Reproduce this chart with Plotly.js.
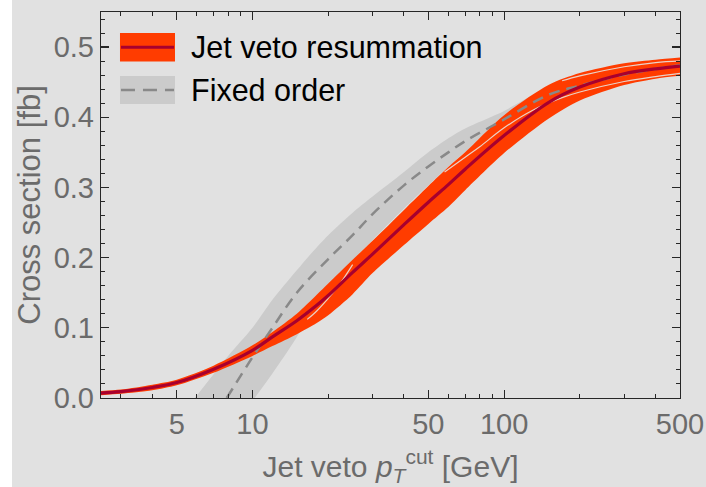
<!DOCTYPE html>
<html><head><meta charset="utf-8">
<script src="https://cdn.plot.ly/plotly-3.0.1.min.js"></script>
<style>html,body{margin:0;padding:0;background:#ffffff;} #plot{position:absolute;left:12px;top:0;width:694px;height:487px;}</style>
</head><body><div id="plot"></div>
<script>
// ---- Jet veto resummation (orange band + central line) ----
const resX       = [2.5, 3, 4, 5, 7, 10, 12, 15, 18, 20, 25, 30, 40, 50, 60, 70, 100, 150, 200, 300, 400, 500];
const resCentral = [0.007, 0.009, 0.015, 0.022, 0.041, 0.068, 0.087, 0.110, 0.132, 0.146, 0.179, 0.205, 0.247, 0.279, 0.304, 0.326, 0.374, 0.421, 0.443, 0.462, 0.469, 0.473];
const resLow     = [0.004, 0.006, 0.011, 0.018, 0.036, 0.060, 0.074, 0.091, 0.107, 0.118, 0.148, 0.178, 0.218, 0.248, 0.272, 0.296, 0.349, 0.398, 0.424, 0.446, 0.455, 0.459];
const resHigh    = [0.010, 0.012, 0.019, 0.026, 0.046, 0.075, 0.094, 0.120, 0.147, 0.163, 0.197, 0.224, 0.268, 0.302, 0.329, 0.350, 0.403, 0.446, 0.463, 0.477, 0.482, 0.485];

// light inner edges of overlapping variation bands
const edgeCrossX = [16.5, 18, 20, 22, 25];
const edgeCrossY = [0.112, 0.124, 0.142, 0.160, 0.190];
const edgeMidX   = [58, 70, 80, 100, 130, 170, 200, 300, 400, 500];
const edgeMidY   = [0.322, 0.343, 0.358, 0.385, 0.410, 0.428, 0.436, 0.451, 0.458, 0.4625];
const edgeTopX   = [170, 200, 300, 400, 500];
const edgeTopY   = [0.452, 0.459, 0.472, 0.478, 0.4805];

// ---- Fixed order (gray band + dashed central line) ----
const foUpperX = [5.9, 7, 8, 10, 12, 15, 17, 20, 25, 30, 40, 50, 60, 70, 100, 125, 150, 200, 300, 500];
const foUpperY = [0, 0.034, 0.060, 0.100, 0.140, 0.182, 0.205, 0.232, 0.264, 0.287, 0.322, 0.350, 0.370, 0.384, 0.409, 0.428, 0.440, 0.455, 0.468, 0.480];
const foLowerX = [10.2, 12, 14, 16, 18, 20, 25, 30, 40, 50, 70, 100, 150, 200, 300, 500];
const foLowerY = [0, 0.035, 0.070, 0.103, 0.130, 0.152, 0.195, 0.225, 0.270, 0.303, 0.350, 0.385, 0.418, 0.435, 0.452, 0.468];
const foCentralX = [7.9, 10, 12, 15, 20, 25, 30, 40, 50, 60, 70, 100, 150, 200, 300, 500];
const foCentralY = [0, 0.058, 0.100, 0.150, 0.198, 0.232, 0.262, 0.303, 0.330, 0.350, 0.366, 0.397, 0.432, 0.445, 0.461, 0.474];

// ---- ticks / labels ----
const xTickVals  = [5, 10, 50, 100, 500];
const xTickText  = ['5', '10', '50', '100', '500'];
const xMinorVals = [3, 4, 6, 7, 8, 9, 20, 30, 40, 60, 70, 80, 90, 200, 300, 400];
const legendLabels = ['Jet veto resummation', 'Fixed order'];

const ORANGE = '#ff3c00', DARKRED = '#a8002e', BAND = '#cbcbcb', DASH = '#898989', EDGE = '#ead2c8';
const BG = '#e1e1e1', AXC = '#262626', TXT = '#6b6b6b';

// lower edge first; the upper edge fills down to it
const traces = [
  {x: foLowerX, y: foLowerY, mode: 'lines', line: {width: 0, color: BAND, shape: 'spline', smoothing: 0.8}, hoverinfo: 'skip'},
  {x: foUpperX, y: foUpperY, mode: 'lines', fill: 'tonexty', fillcolor: BAND, line: {width: 0, color: BAND, shape: 'spline', smoothing: 0.8}, hoverinfo: 'skip'},
  {x: resX, y: resLow, mode: 'lines', line: {width: 0, color: ORANGE, shape: 'spline', smoothing: 0.8}, hoverinfo: 'skip'},
  {x: resX, y: resHigh, mode: 'lines', fill: 'tonexty', fillcolor: ORANGE, line: {width: 0, color: ORANGE, shape: 'spline', smoothing: 0.8}, hoverinfo: 'skip'},
  {x: edgeCrossX, y: edgeCrossY, mode: 'lines', line: {width: 1.2, color: EDGE, shape: 'spline'}},
  {x: edgeMidX, y: edgeMidY, mode: 'lines', line: {width: 1.2, color: EDGE, shape: 'spline'}},
  {x: edgeTopX, y: edgeTopY, mode: 'lines', line: {width: 1.2, color: EDGE, shape: 'spline'}},
  {x: foCentralX, y: foCentralY, mode: 'lines', line: {width: 2.5, color: DASH, dash: '11px,7px', shape: 'spline'}},
  {x: resX, y: resCentral, mode: 'lines', line: {width: 3.2, color: DARKRED, shape: 'spline'}}
];

const FONT = 'Liberation Sans, Arial, Helvetica, sans-serif';
const layout = {
  width: 694, height: 487,
  paper_bgcolor: BG, plot_bgcolor: BG,
  margin: {l: 89, r: 26, t: 12, b: 89},
  showlegend: false,
  font: {family: FONT, size: 29, color: TXT},
  xaxis: {
    type: 'log', range: [Math.log10(2.5), Math.log10(500)],
    tickmode: 'array', tickvals: xTickVals, ticktext: xTickText,
    ticks: 'inside', ticklen: 8, tickwidth: 1.2, tickcolor: AXC,
    showline: true, linecolor: AXC, linewidth: 1.2, mirror: 'allticks',
    showgrid: false, zeroline: false,
    minor: {tickmode: 'array', tickvals: xMinorVals, ticks: 'inside', ticklen: 4, tickwidth: 1, tickcolor: AXC, showgrid: false},
    tickfont: {family: FONT, size: 29, color: TXT},
    title: {text: 'Jet veto <i>p</i><sub><i>T</i></sub><sup>cut</sup> [GeV]', font: {family: FONT, size: 30, color: TXT}, standoff: 18}
  },
  yaxis: {
    range: [0, 0.55], tick0: 0, dtick: 0.1, tickformat: '.1f',
    ticks: 'inside', ticklen: 8, tickwidth: 1.2, tickcolor: AXC,
    showline: true, linecolor: AXC, linewidth: 1.2, mirror: 'allticks',
    showgrid: false, zeroline: false,
    minor: {tick0: 0, dtick: 0.02, ticks: 'inside', ticklen: 4, tickwidth: 1, tickcolor: AXC, showgrid: false},
    tickfont: {family: FONT, size: 29, color: TXT},
    title: {text: 'Cross section [fb]', font: {family: FONT, size: 31, color: TXT}, standoff: 9}
  },
  shapes: [
    {type: 'rect', xref: 'paper', yref: 'paper', x0: 0.0328, x1: 0.1278, y0: 0.8718, y1: 0.9456, fillcolor: ORANGE, line: {width: 0}},
    {type: 'line', xref: 'paper', yref: 'paper', x0: 0.0345, x1: 0.1261, y0: 0.9085, y1: 0.9085, line: {color: DARKRED, width: 3}},
    {type: 'rect', xref: 'paper', yref: 'paper', x0: 0.0328, x1: 0.1278, y0: 0.7617, y1: 0.8342, fillcolor: BAND, line: {width: 0}},
    {type: 'line', xref: 'paper', yref: 'paper', x0: 0.0345, x1: 0.1261, y0: 0.7979, y1: 0.7979, line: {color: DASH, width: 2.5, dash: '14px,8px'}}
  ],
  annotations: [
    {xref: 'paper', yref: 'paper', x: 0.1520, y: 0.9085, xanchor: 'left', yanchor: 'middle', showarrow: false, text: legendLabels[0], font: {family: FONT, size: 30.5, color: '#000'}},
    {xref: 'paper', yref: 'paper', x: 0.1520, y: 0.7979, xanchor: 'left', yanchor: 'middle', showarrow: false, text: legendLabels[1], font: {family: FONT, size: 30.5, color: '#000'}}
  ]
};

Plotly.newPlot('plot', traces, layout, {displayModeBar: false, staticPlot: true});
</script>
</body></html>
